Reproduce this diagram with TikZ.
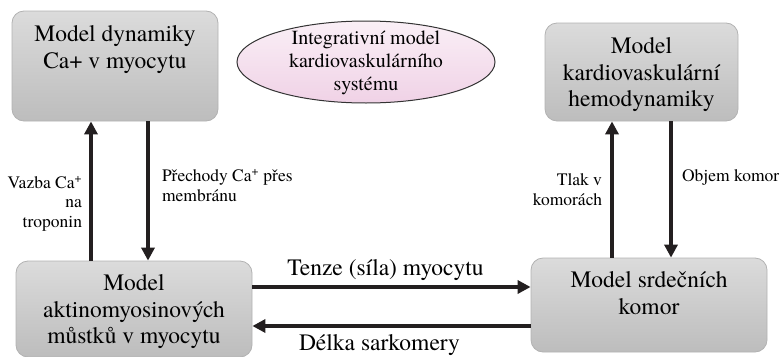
\documentclass[tikz,border=0pt]{standalone}
\usepackage{fontspec}
\setmainfont{TeX Gyre Termes}
\newfontfamily\timesfont{TeX Gyre Termes}
\usetikzlibrary{arrows.meta,positioning,shapes.geometric}
\definecolor{ellpink}{RGB}{240,210,230}
\definecolor{arrowblack}{RGB}{35,31,32}

\begin{document}
\begin{tikzpicture}[x=1pt, y=-1pt,
    modelbox/.style={draw=black!30, line width=0.8pt, rounded corners=12pt,
        top color=black!14, bottom color=black!26},
    boxtext/.style={align=center, inner sep=0pt,
        font=\timesfont\fontsize{23.5}{26.5}\selectfont},
    arr/.style={draw=arrowblack, line width=4pt,
        -{Triangle[length=13pt,width=13pt]}},
    lbl/.style={font=\timesfont\fontsize{17.5}{19.5}\selectfont, inner sep=0pt}]
    \useasboundingbox (0,0) rectangle (783,356);

    % four models
    \node[modelbox, minimum width=206, minimum height=110] (dyn) at (115,66) {};
    \node[modelbox, minimum width=193, minimum height=98] (hemo) at (641.5,72) {};
    \node[modelbox, minimum width=236, minimum height=96] (akt) at (134,309) {};
    \node[modelbox, minimum width=236, minimum height=94] (kom) at (649,305) {};

    \node[boxtext, anchor=north] (dyntext) at ([yshift=-15pt]dyn.north)
        {Model dynamiky\\Ca+ v myocytu};
    \node[boxtext, anchor=north] (hemotext) at ([yshift=-15pt]hemo.north)
        {Model\\kardiovaskulární\\hemodynamiky};
    \node[boxtext, anchor=north] (akttext) at ([yshift=-14pt]akt.north)
        {Model\\aktinomyosinových\\můstků v myocytu};
    \node[boxtext, anchor=north] (komtext) at ([yshift=-14pt]kom.north)
        {Model srdečních\\komor};

    % integrative model
    \node[ellipse, draw=black!80, line width=1pt, top color=ellpink!35,
        bottom color=ellpink, minimum width=258, minimum height=82] (integ) at (366,62) {};
    \node[align=center, inner sep=0pt, font=\timesfont\fontsize{20}{23}\selectfont] (integtext)
        at ([yshift=-1pt]integ.center) {Integrativní model\\kardiovaskulárního\\systému};

    % Ca+ connections
    \draw[arr] ([xshift=-43pt]akt.north) -- ([xshift=-43pt]akt.north |- dyn.south)
        node[lbl, pos=0.41, left=7pt, align=right] (vazba)
        {Vazba Ca\textsuperscript{+}\\na\\troponin};
    \draw[arr] ([xshift=33pt]dyn.south) -- ([xshift=33pt]dyn.south |- akt.north)
        node[lbl, pos=0.46, right=12pt, align=left] (prechody)
        {Přechody Ca\textsuperscript{+} přes\\membránu};

    % hemodynamics
    \draw[arr] ([xshift=-37pt]kom.north) -- ([xshift=-37pt]kom.north |- hemo.south)
        node[lbl, pos=0.5, left=8pt, align=right] (tlak) {Tlak v\\komorách};
    \draw[arr] ([xshift=29.5pt]hemo.south) -- ([xshift=29.5pt]hemo.south |- kom.north)
        node[lbl, pos=0.41, right=9pt] (objem) {Objem komor};

    % force and length
    \draw[arr] ([yshift=22pt]akt.east) -- ([yshift=22pt]akt.east -| kom.west)
        node[midway, above=4pt, inner sep=0pt, font=\timesfont\fontsize{23.5}{26.5}\selectfont,
        xshift=-6pt] (tenze) {Tenze (síla) myocytu};
    \draw[arr] ([yshift=-17pt]akt.east -| kom.west) -- ([yshift=-17pt]akt.east)
        node[midway, below=6pt, inner sep=0pt, font=\timesfont\fontsize{23.5}{26.5}\selectfont,
        xshift=-12pt] (delka) {Délka sarkomery};
\end{tikzpicture}
\end{document}
